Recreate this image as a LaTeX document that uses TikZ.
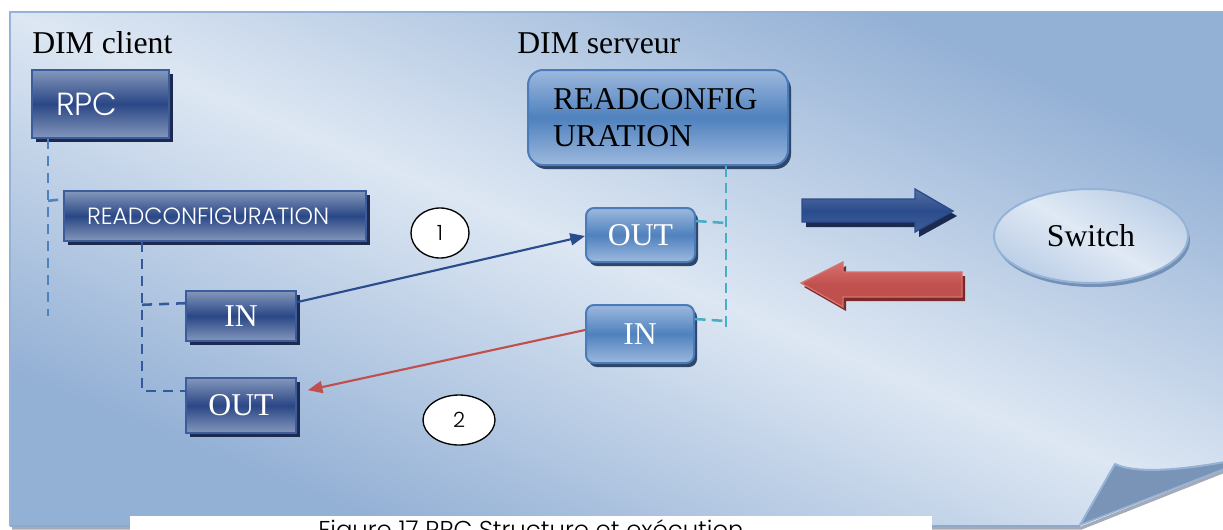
\documentclass[tikz,border=0pt]{standalone}
\usepackage{fontspec}
\setmainfont{Liberation Serif}
\newfontfamily\gothic{Poppins Light}
\usetikzlibrary{shapes.geometric,shadows,arrows.meta,calc}
\definecolor{pDark}{HTML}{93B0D5}
\definecolor{pLight}{HTML}{DDE7F3}
\definecolor{pBorder}{HTML}{95B3D7}
\definecolor{pShadow}{HTML}{A4ABB8}
\definecolor{flapFill}{HTML}{7A94B8}
\definecolor{navyMid}{HTML}{2A4786}
\definecolor{navyLight}{HTML}{8497BB}
\definecolor{navyBorder}{HTML}{3D5C9C}
\definecolor{navyShadow}{HTML}{1B2A4E}
\definecolor{blueMid}{HTML}{4F81BD}
\definecolor{blueLight}{HTML}{9DB9DE}
\definecolor{blueBorder}{HTML}{4A7CB9}
\definecolor{blueShadow}{HTML}{2F4668}
\definecolor{cyanDash}{HTML}{4BACC6}
\definecolor{dashBlue}{HTML}{4F81BD}
\definecolor{dashNavy}{HTML}{34599A}
\definecolor{arrowNavy}{HTML}{2B4C8C}
\definecolor{arrowRed}{HTML}{C0504D}
\definecolor{redLight}{HTML}{D7726F}
\definecolor{redShadow}{HTML}{7A2A28}
\definecolor{swLight}{HTML}{E0E9F4}
\definecolor{swEdge}{HTML}{BCCFE7}
\definecolor{swShadow}{HTML}{7490B6}
\begin{document}
\begin{tikzpicture}[x=0.75pt,y=-0.75pt,
  serif/.style={font=\fontsize{23.8pt}{27.75pt}\selectfont},
  navybox/.style={rectangle, draw=navyBorder, line width=1.2pt,
    top color=navyLight, bottom color=navyLight, middle color=navyMid,
    text=white, inner sep=0pt,
    general shadow={shadow xshift=3pt, shadow yshift=-3pt, fill=navyShadow, opacity=1}},
  bluebox/.style={rectangle, rounded corners=6pt, draw=blueBorder, line width=1.5pt,
    top color=blueLight, bottom color=blueLight, middle color=blueMid,
    inner sep=0pt,
    general shadow={shadow xshift=2.25pt, shadow yshift=-3pt, fill=blueShadow, opacity=1}},
  numcircle/.style={ellipse, draw=black, line width=1pt, fill=white, inner sep=0pt,
    font=\gothic\fontsize{15.75pt}{18pt}\selectfont},
  dashA/.style={dashBlue, line width=1.9pt, dash pattern=on 7.5pt off 5.25pt},
  dashB/.style={dashNavy, line width=1.9pt, dash pattern=on 7.5pt off 5.25pt},
  dashC/.style={cyanDash, line width=1.9pt, dash pattern=on 8pt off 4.5pt},
  callblue/.style={arrowNavy, line width=1.6pt, -{Triangle[length=11pt,width=9pt]}},
  callred/.style={arrowRed, line width=1.6pt, -{Triangle[length=11pt,width=9pt]}},
]
\useasboundingbox (0,0) rectangle (1223,529);
\clip (0,0) rectangle (1223,529);
\fill[white] (0,0) rectangle (1223,529);

% page shadow
\draw[pShadow, line width=2.5pt] (12,528) -- (1081,528) -- (1260,457);
% page panel with diagonal gradient
\begin{scope}
  \clip (10,12) -- (1260,12) -- (1260,455) -- (1080,526) -- (10,526) -- cycle;
  \begin{scope}[transform canvas={shift={(476.25pt,-201.75pt)}, xscale=2.4319}]
    \shade[top color=pDark, bottom color=pDark, middle color=pLight, shading angle=-45]
      (-192.75pt,-192.75pt) rectangle (192.75pt,192.75pt);
  \end{scope}
\end{scope}
\draw[pBorder, line width=1.5pt] (10,526) -- (10,12) -- (1260,12);
\draw[pBorder!80!gray, line width=1pt] (10,526) -- (1080,526);
% page curl
\fill[flapFill] (1080,525) -- (1115,464) .. controls (1140,476) and (1200,468) .. (1260,455) -- cycle;
\draw[pBorder, line width=1.5pt, line join=round] (1080,525) -- (1115,464) .. controls (1140,476) and (1200,468) .. (1260,455);
\draw[pBorder, line width=1.2pt] (1080,525) -- (1260,455);

% caption (cut off at the bottom, as in the original)
\fill[white] (130,516) rectangle (932,535);
\node[anchor=base, font=\gothic\fontsize{18.3pt}{21pt}\selectfont, inner sep=0pt] (cap) at (531,538) {Figure 17 RPC Structure et exécution};

% titles
\node[serif, anchor=base west, inner sep=0pt] (tclient) at (32,53) {DIM client};
\node[serif, anchor=base west, inner sep=0pt] (tserver) at (517,53) {DIM serveur};

% client side
\node[navybox, minimum width=102.75pt, minimum height=51pt, text width=66.75pt, inner xsep=18pt, align=left,
  font=\gothic\fontsize{24pt}{27pt}\selectfont] (rpc) at (100.5,104) {RPC};
\node[navybox, minimum width=226.5pt, minimum height=37.5pt, text width=192pt, inner xsep=17.25pt, align=left,
  font=\gothic\fontsize{17.6pt}{20pt}\selectfont] (rcc) at (215,216) {READCONFIGURATION};
\node[navybox, serif, minimum width=82.5pt, minimum height=37.5pt] (cin) at (241,316) {IN};
\node[navybox, serif, minimum width=82.5pt, minimum height=41.25pt] (cout) at (241,405.5) {OUT};

% server side
\node[bluebox, serif, rounded corners=11.25pt, minimum width=195pt, minimum height=71.25pt,
  text width=157.5pt, inner xsep=18.75pt, align=left, text=black] (srv) at (658,117.5) {READCONFIG\\URATION};
\node[bluebox, serif, text=white, minimum width=81.75pt, minimum height=40.5pt] (sout) at (640.5,235) {OUT};
\node[bluebox, serif, text=white, minimum width=81pt, minimum height=43.5pt] (sin) at (640,334) {IN};

% switch
\node[ellipse, draw=pBorder, line width=1.5pt, minimum width=145.5pt, minimum height=70.5pt,
  top color=swEdge, bottom color=swEdge, middle color=swLight, shading angle=-30, serif,
  general shadow={shadow xshift=1.5pt, shadow yshift=-3pt, fill=swShadow, opacity=1}] (sw) at (1091,236) {Switch};

% step numbers
\node[numcircle, minimum width=43.5pt, minimum height=37.5pt] (n1) at (440,233) {1};
\node[numcircle, minimum width=54pt, minimum height=37.5pt] (n2) at (459,420) {2};

% dashed structure lines (client)
\draw[dashA] ($(rpc.south west)+(17,0)$) -- ($(rpc.south west)+(17,177)$);
\draw[dashA] ($(rpc.south west)+(17,62)$) -- ($(rcc.north west)+(0,9)$);
\draw[dashB] ($(rcc.south west)+(79,0)$) |- ($(cout.north west)+(0,14)$);
\draw[dashB] ($(rcc.south west)+(79,63)$) -- ($(cin.north west)+(0,13)$);
% dashed structure lines (server)
\draw[dashC] ($(srv.south west)+(199,0)$) -- ($(srv.south west)+(199,162)$);
\draw[dashC] ($(sout.north east)+(0,14)$) -- ($(srv.south west)+(199,57)$);
\draw[dashC] ($(sin.north east)+(0,15)$) -- ($(srv.south west)+(199,155)$);

% calls
\draw[callblue] ($(cin.north east)+(0,12)$) -- ($(sout.south west)+(0,-27)$);
\coordinate (redend) at ($(cout.north east)+(11,13)$);
\draw[callred] ($(sin.north west)+(0,26)$) -- (redend);

% big arrows
\fill[navyShadow] ($(802,199)+(4,5)$) -- ++(113,0) -- ++(0,-10) -- ++(38,22) -- ++(-38,21) -- ++(0,-10) -- ++(-113,0) -- cycle;
\shade[top color=arrowNavy!80!white, bottom color=arrowNavy!90!white, middle color=arrowNavy, draw=arrowNavy, line width=1pt]
  (802,199) -- (915,199) -- (915,189) -- (953,211) -- (915,232) -- (915,222) -- (802,222) -- cycle;
\fill[redShadow] ($(801,283)+(3,4)$) -- ++(42,-21) -- ++(0,10) -- ++(119,0) -- ++(0,25) -- ++(-119,0) -- ++(0,10) -- cycle;
\shade[top color=redLight, bottom color=arrowRed, middle color=arrowRed, draw=redLight, line width=1pt]
  (801,283) -- (843,262) -- (843,272) -- (962,272) -- (962,297) -- (843,297) -- (843,307) -- cycle;
\end{tikzpicture}
\end{document}
